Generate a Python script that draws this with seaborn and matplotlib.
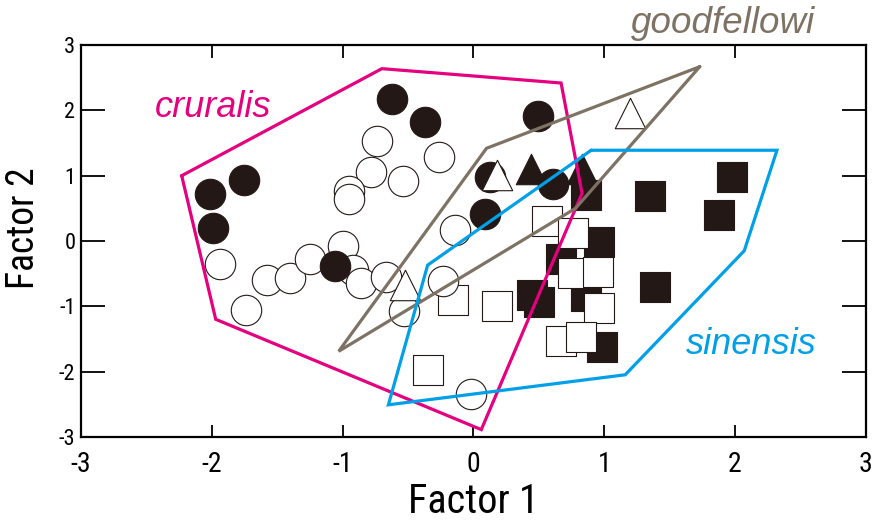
import numpy as np
import pandas as pd
import matplotlib
matplotlib.use("Agg")
import matplotlib.pyplot as plt
from matplotlib import font_manager
import seaborn as sns

# pontos (Factor 1, Factor 2)
circ_cheio_x = [-0.62, -0.37, -2.01, -1.75, -1.99, -1.06, 0.49, 0.13, 0.61, 0.09]
circ_cheio_y = [2.17, 1.82, 0.72, 0.93, 0.20, -0.38, 1.91, 0.98, 0.88, 0.41]

circ_vazio_x = [-0.74, -0.26, -0.78, -0.54, -0.95, -0.95, -0.14, -1.94, -1.58, -1.40,
                -1.25, -1.00, -0.92, -0.86, -0.67, -0.23, -1.74, -0.53, -0.02]
circ_vazio_y = [1.53, 1.29, 1.05, 0.92, 0.76, 0.64, 0.17, -0.35, -0.60, -0.56,
                -0.27, -0.08, -0.44, -0.65, -0.55, -0.61, -1.05, -1.07, -2.34]

tri_cheio_x = [0.44, 0.83]
tri_cheio_y = [1.11, 1.11]

tri_vazio_x = [1.20, 0.18, -0.52]
tri_vazio_y = [1.96, 1.01, -0.67]

quad_cheio_x = [0.86, 1.35, 1.98, 1.88, 0.96, 0.67, 0.45, 0.50, 0.86, 1.39, 0.98]
quad_cheio_y = [0.70, 0.69, 0.98, 0.40, -0.01, -0.28, -0.83, -0.93, -0.85, -0.70, -1.63]

quad_vazio_x = [0.56, 0.76, 0.76, 0.95, 0.96, 0.67, 0.82, -0.16, 0.18, -0.35]
quad_vazio_y = [0.30, 0.12, -0.49, -0.47, -1.03, -1.54, -1.47, -0.90, -0.99, -1.97]

# contornos (poligonos convexos) de cada especie
cruralis_x = [-2.23, -0.70, 0.67, 0.83, 0.06, -1.97]
cruralis_y = [1.00, 2.64, 2.42, 0.73, -2.89, -1.20]

goodfellowi_x = [1.73, 0.10, -1.03, 0.78]
goodfellowi_y = [2.67, 1.42, -1.69, 0.50]

sinensis_x = [0.90, 2.32, 2.07, 1.16, -0.65, -0.35]
sinensis_y = [1.39, 1.39, -0.15, -2.05, -2.51, -0.37]

ticks = [-3, -2, -1, 0, 1, 2, 3]

preto = "#231815"
rosa = "#E4007F"
marrom = "#7D7264"
azul = "#00A0E9"

sns.set_theme(style="white")

# fonte estreita para os eixos
nomes = {f.name for f in font_manager.fontManager.ttflist}
fonte_eixo = "DejaVu Sans"
for cand in ["Liberation Sans Narrow", "Roboto Condensed", "Open Sans Condensed", "Liberation Sans"]:
    if cand in nomes:
        fonte_eixo = cand
        break
plt.rcParams["font.family"] = [fonte_eixo, "DejaVu Sans"]

fig = plt.figure(figsize=(8.8, 5.25), dpi=100)
ax = fig.add_axes([0.092, 0.168, 0.892, 0.746])

grupos = [
    (quad_cheio_x, quad_cheio_y, "s", preto),
    (quad_vazio_x, quad_vazio_y, "s", "white"),
    (circ_vazio_x, circ_vazio_y, "o", "white"),
    (circ_cheio_x, circ_cheio_y, "o", preto),
    (tri_cheio_x, tri_cheio_y, "^", preto),
    (tri_vazio_x, tri_vazio_y, "^", "white"),
]
for gx, gy, mk, cor in grupos:
    df = pd.DataFrame({"f1": gx, "f2": gy})
    sns.scatterplot(data=df, x="f1", y="f2", marker=mk, s=480, color=cor,
                    edgecolor=preto, linewidth=0.8, ax=ax, legend=False, zorder=3)

for px, py, cor in [(cruralis_x, cruralis_y, rosa),
                    (goodfellowi_x, goodfellowi_y, marrom),
                    (sinensis_x, sinensis_y, azul)]:
    ax.plot(px + px[:1], py + py[:1], color=cor, lw=2.3, zorder=5, solid_joinstyle="miter")

fam_rot = ["Liberation Sans", "DejaVu Sans"]
ax.text(-1.99, 1.90, "cruralis", color=rosa, fontsize=26, style="italic",
        ha="center", va="baseline", family=fam_rot)
ax.text(1.905, 3.185, "goodfellowi", color=marrom, fontsize=26.5, style="italic",
        ha="center", va="baseline", family=fam_rot, clip_on=False)
ax.text(2.12, -1.73, "sinensis", color=azul, fontsize=26, style="italic",
        ha="center", va="baseline", family=fam_rot)

ax.set_xlim(-3, 3)
ax.set_ylim(-3, 3)
ax.set_xticks(ticks)
ax.set_yticks(ticks)
ax.set_xticklabels([str(t) for t in ticks])
ax.set_yticklabels([str(t) for t in ticks])
ax.tick_params(axis="x", direction="in", length=9, width=1.3, top=True, bottom=True,
               labelsize=20, pad=10, colors="black")
ax.tick_params(axis="y", direction="in", length=17, width=1.3, left=True, right=True,
               labelsize=16, pad=4, colors="black")
for sp in ax.spines.values():
    sp.set_color("black")
    sp.set_linewidth(1.6)

ax.set_xlabel("Factor 1", fontsize=29, labelpad=3, color="black")
ax.set_ylabel("Factor 2", fontsize=27, color="black")
ax.yaxis.set_label_coords(-0.05, 0.533)

fig.savefig("out.png", dpi=100)
